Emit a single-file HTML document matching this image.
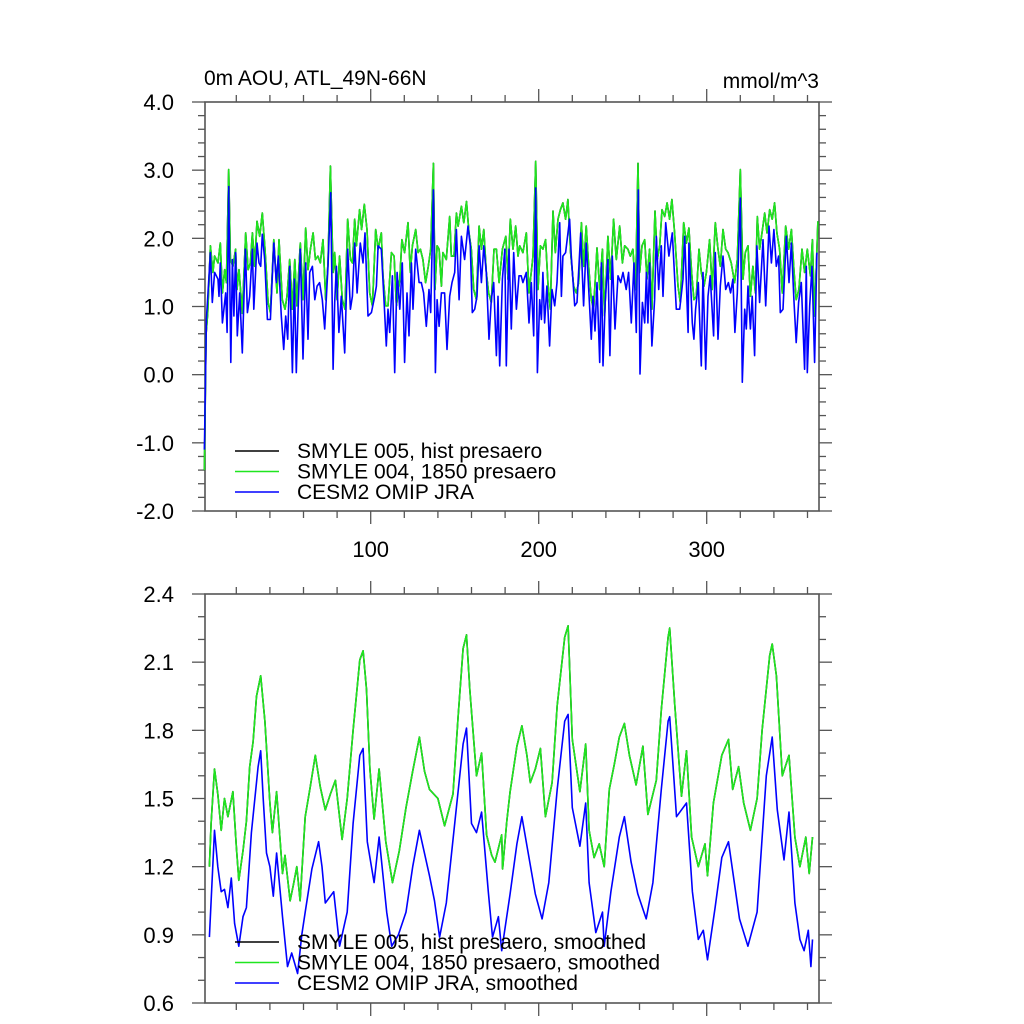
<!DOCTYPE html>
<html><head><meta charset="utf-8">
<style>
html,body{margin:0;padding:0;background:#fff;}
svg{display:block;font-family:"Liberation Sans",Arial,sans-serif;}
</style></head>
<body>
<svg id="chart" width="1024" height="1024" viewBox="0 0 1024 1024">
<g id="top"></g>
<g id="bot"></g>
</svg>
<script>
// ---- data ----
const topGreenDays = [1,2,3,4.6,6.1,7.1,9.1,10.5,11.7,13.1,14.1,15.5,16.5,18.0,19.6,20.4,21.6,23.6,25.6,27.0,28.4,29.6,30.9,32.3,33.9,35.5,37.1,38.9,40.3,42.3,44.2,45.4,47.4,49.0,50.2,51.8,53.4,54.8,56.1,58.1,59.7,61.3,62.7,64.1,65.7,67.1,68.6,70.0,71.6,73.2,74.6,76.0,77.6,78.6,80.0,81.5,83.1,84.7,86.3,87.9,89.1,90.5,91.5,93.4,94.6,96.2,97.8,99.4,101.0,103.0,104.4,106.3,107.3,108.9,110.3,112.3,113.9,115.3,117.3,118.6,120.2,122.2,123.6,124.8,126.8,128.2,129.6,131.1,132.7,134.3,135.7,137.3,138.3,139.5,140.7,142.1,143.0,145.0,147.0,148.0,149.6,151.0,152.0,154.0,155.4,157.0,158.5,159.9,161.3,162.9,164.5,165.9,167.3,168.8,170.2,171.8,173.4,174.8,176.4,178.4,180.4,181.7,183.1,184.7,186.3,187.7,188.7,190.6,192.6,194.2,196.6,198.2,199.6,201.0,202.5,204.1,205.5,206.9,208.5,209.9,211.5,212.9,214.4,216.0,217.4,219.0,220.8,222.4,223.8,225.4,226.8,228.3,229.9,231.3,232.7,234.7,236.3,237.9,239.2,241.2,242.8,244.6,246.2,248.2,249.8,251.2,253.1,254.5,256.1,257.7,259.1,260.1,261.5,263.1,264.4,266.0,267.4,269.2,270.6,272.0,273.4,275.0,276.4,277.9,279.3,280.9,282.9,284.3,286.3,287.9,289.4,291.0,292.4,293.8,295.4,296.8,298.4,299.8,301.7,303.3,305.1,306.7,308.1,309.7,311.3,312.7,314.6,316.6,318.2,320.0,321.6,323.0,324.6,326.0,327.5,329.0,330.1,331.5,332.9,334.5,335.9,337.5,339.0,340.4,341.8,343.4,345.0,347.0,348.8,350.4,352.0,353.3,354.9,356.7,358.3,359.9,361.7,362.9,364.2,366.2];
const topGreen = [-1.4,0.6,0.9,1.89,1.50,1.74,1.64,1.93,1.20,1.54,1.35,3.01,1.69,1.59,1.84,1.25,1.54,0.9,2.08,1.54,1.64,2.08,1.59,2.25,2.03,2.37,1.84,1.06,0.91,1.98,1.20,1.98,1.10,0.96,1.15,1.69,0.96,1.69,1.01,1.93,1.10,2.15,1.54,1.84,2.08,1.69,1.74,1.64,1.98,1.10,1.64,3.06,1.50,1.79,1.10,1.74,1.10,0.96,2.28,1.69,1.64,2.28,1.89,2.42,2.13,2.50,2.13,1.20,1.01,2.13,1.84,2.08,1.45,1.01,1.01,1.79,1.74,1.01,1.40,1.98,1.79,2.23,1.50,1.89,2.13,1.79,1.84,1.69,1.35,1.59,1.84,3.10,1.25,1.89,1.84,1.30,1.79,1.69,2.32,1.74,1.74,2.37,2.18,2.47,2.23,2.54,2.08,1.84,1.25,1.10,2.18,1.84,2.13,1.50,1.20,1.06,1.84,1.84,1.35,1.84,2.03,1.40,2.28,1.84,2.18,1.74,1.89,1.79,2.08,1.20,1.74,3.13,1.25,1.89,1.84,1.98,1.35,0.96,2.40,1.79,2.28,2.42,2.52,2.28,2.57,1.79,1.30,1.20,1.35,2.23,1.59,2.18,1.54,1.10,0.96,1.86,1.25,1.84,0.86,2.03,1.40,2.28,1.69,2.18,1.64,1.89,1.84,1.74,1.84,1.25,3.10,1.50,1.89,1.98,1.40,1.84,0.96,2.40,1.69,1.89,2.42,2.32,2.52,2.28,2.57,2.08,1.30,1.06,2.23,1.93,2.15,1.50,1.10,1.15,1.84,1.50,1.30,1.50,1.98,1.25,2.23,1.84,1.59,2.13,1.84,1.79,1.64,1.35,1.69,3.01,1.40,1.79,1.89,1.15,1.59,1.20,2.32,1.84,2.08,2.37,2.08,2.42,2.28,2.52,2.08,1.84,1.20,2.18,1.84,2.13,1.50,1.10,1.25,1.84,1.50,1.84,1.45,1.98,0.86,2.25];
const topHistDays = topGreenDays.slice();
const topHist = topGreen.slice();
const topBlueDays = [1,2.2,4.6,5.7,7.1,9.1,9.7,10.5,11.7,13.7,14.5,15.5,16.7,17.7,18.6,19.6,20.6,22.0,23.6,25.4,26.6,28.0,29.6,30.4,32.3,33.5,34.5,35.5,36.9,38.5,40.3,42.3,43.8,45.0,46.8,48.2,49.4,50.6,51.8,53.4,54.6,55.7,56.7,58.1,59.7,61.3,62.7,63.7,65.3,66.7,68.1,69.6,71.2,72.6,74.6,76.2,77.6,78.6,79.6,81.1,82.5,84.5,86.3,87.9,89.1,90.5,91.9,93.8,95.4,96.6,98.4,100.4,102.4,103.4,104.4,106.3,107.9,109.3,110.3,111.3,112.9,114.3,115.7,117.3,118.8,120.2,121.6,122.8,124.2,125.2,126.8,128.8,130.1,131.5,133.1,134.7,135.7,137.3,138.5,139.5,140.7,142.1,144.0,145.4,147.0,148.4,150.0,151.0,152.6,154.0,155.9,157.9,159.3,160.5,161.9,163.3,164.5,165.9,167.3,168.8,170.4,171.8,173.2,174.8,175.8,176.8,178.4,179.8,180.7,182.3,183.7,185.1,186.7,188.3,189.6,190.6,192.6,194.2,195.6,197.0,198.2,199.2,200.6,201.6,202.5,203.5,204.9,206.5,207.9,209.5,210.9,212.5,213.5,214.4,216.0,218.4,219.4,221.4,222.8,225.0,226.7,228.3,229.9,231.3,232.3,233.5,234.7,236.3,237.3,238.3,239.6,241.2,242.4,243.8,245.4,247.2,248.8,250.2,252.1,253.5,255.1,256.7,258.1,259.3,260.3,261.7,263.1,264.1,265.0,266.0,267.4,269.0,270.0,271.4,273.0,274.0,275.6,277.5,279.5,281.9,283.9,285.9,286.9,288.9,289.4,291.4,292.4,293.4,295.0,296.8,297.8,299.4,300.8,302.1,304.1,305.1,306.7,308.1,309.7,311.3,312.9,314.2,315.6,316.8,318.2,320.0,321.2,322.6,323.6,324.6,326.0,327.1,328.5,329.9,331.5,333.5,335.1,337.1,338.5,340.0,341.4,342.8,343.8,345.4,347.4,349.0,350.4,351.9,353.3,354.7,356.3,358.3,359.3,359.9,361.3,362.7,364.2,365.6];
const topBlue = [-1.1,0.81,1.79,1.06,1.50,1.40,1.15,1.64,0.76,1.20,0.62,2.76,0.18,1.69,0.86,1.79,0.57,1.20,0.32,1.84,0.91,1.15,1.84,0.96,1.93,1.64,1.59,2.06,1.69,0.81,0.81,1.93,1.35,1.74,0.86,0.37,0.86,0.52,1.59,0.03,1.40,0.03,0.91,1.84,0.23,1.64,0.52,1.50,1.59,1.10,1.30,1.35,1.10,0.67,1.59,2.67,0.08,1.06,1.59,0.62,1.15,0.32,1.84,0.96,1.15,1.93,1.20,1.93,1.64,2.08,0.86,0.91,1.15,1.30,1.89,1.84,1.10,0.42,0.96,0.62,1.45,0.03,1.50,0.96,1.64,0.18,1.20,0.57,1.64,0.96,1.84,1.35,1.35,1.20,0.71,1.25,0.91,2.71,0.03,1.10,0.71,1.20,1.20,0.37,1.15,1.35,1.50,2.13,1.10,2.03,1.69,2.18,1.89,0.91,0.96,1.15,1.89,1.35,1.89,1.50,0.52,1.10,1.35,0.28,1.15,0.13,1.40,1.84,0.13,1.84,0.67,1.79,0.96,1.45,1.45,1.35,1.50,0.76,1.35,0.57,2.74,0.03,1.10,0.81,1.50,0.76,1.30,0.42,1.25,1.01,1.35,2.23,1.15,1.74,1.79,2.28,1.74,1.01,1.06,2.08,1.01,1.93,1.20,0.52,1.15,0.64,1.35,0.18,1.64,0.13,1.06,1.69,0.28,1.74,0.67,1.45,1.35,1.50,1.25,1.50,0.76,1.64,0.62,2.71,0.01,1.06,0.76,1.50,0.76,1.64,0.42,1.10,2.03,1.25,1.89,1.15,2.23,1.74,2.08,0.96,0.96,1.40,2.03,0.62,1.93,0.76,0.52,0.96,1.35,0.13,1.50,0.08,1.15,1.45,0.57,1.79,0.52,1.30,1.74,1.25,1.35,1.20,1.40,0.62,1.20,2.59,-0.11,0.96,0.67,1.30,0.67,1.15,0.28,1.89,1.06,1.98,1.01,2.18,1.64,2.13,1.59,1.74,0.91,0.96,2.03,1.35,1.93,1.10,0.47,1.06,1.35,0.08,1.59,0.03,1.01,1.59,0.18,1.79];

const botGreenDays = [4,5,7,9,11,13,15,18,20,21.5,24,26,28,30,32,34.5,37,40,41.5,44,47.5,49,52,54,56,58,61,64,67,70,73,76,79,83,86,89.5,93.5,95.5,97.5,99.5,102,105,109,113,117,121,125,129,132,135,140,144,149,152,155,157,159,163,166,169,172,174,178,178.5,181,183,187,190,193,195,198,201,204,208,211,215.5,217.5,220,224.5,228,230,233,236,239,242,245,248,251,254,258,262,265,270,273,277,278,281,285,288,291,295,299,300.5,304,309,313,315.5,319,322,326,330,333,337.5,339,341.5,345,349,352.5,355.5,359,361,363];
const botGreen = [1.2,1.39,1.63,1.52,1.36,1.5,1.42,1.53,1.29,1.14,1.27,1.4,1.64,1.75,1.95,2.04,1.84,1.48,1.35,1.53,1.17,1.25,1.05,1.12,1.2,1.05,1.42,1.55,1.69,1.55,1.45,1.52,1.58,1.32,1.5,1.8,2.11,2.15,1.98,1.63,1.41,1.63,1.31,1.13,1.27,1.46,1.62,1.77,1.62,1.54,1.5,1.38,1.52,1.86,2.16,2.22,1.98,1.6,1.7,1.34,1.25,1.22,1.34,1.19,1.4,1.53,1.73,1.82,1.69,1.57,1.63,1.72,1.42,1.57,1.91,2.21,2.26,1.76,1.53,1.74,1.36,1.24,1.3,1.2,1.54,1.65,1.77,1.83,1.69,1.56,1.73,1.43,1.58,1.89,2.21,2.25,1.91,1.51,1.71,1.33,1.2,1.3,1.16,1.48,1.69,1.76,1.54,1.64,1.48,1.36,1.5,1.8,2.13,2.18,2.04,1.6,1.69,1.33,1.2,1.33,1.17,1.33];
const botHistDays = botGreenDays.slice();
const botHist = botGreen.slice();
const botBlueDays = [4,7,9,11,13,15,17,19,21.5,24,26,29,33,34.5,36,38,40,42,44,47.5,50.5,53,56.5,59,61,65,69,71,73,78,81.5,86,89.5,93.5,95.5,98,102,105,109.5,112.5,116.5,121,125,129,135,138,141,145,151,155,157,160,163,166,170,172.5,176,178,183,187,190,193.5,198,202,206,211,215.5,217.5,220,224.5,228,230,234,238,239,243,248,251,255,259,264,268,273,277,278,282,288,291.5,295,298,300.5,305,309,313,315.5,319.5,324.5,330,335.5,339,342,346,349,352.5,355.5,358,360.5,362,363];
const botBlue = [0.89,1.36,1.2,1.09,1.1,1.02,1.15,0.95,0.85,0.98,1.02,1.35,1.64,1.71,1.5,1.26,1.2,1.07,1.26,0.98,0.76,0.82,0.73,0.9,1.0,1.19,1.31,1.2,1.04,1.09,0.85,1.0,1.39,1.69,1.72,1.31,1.13,1.33,1.0,0.85,0.9,1.0,1.2,1.36,1.16,1.05,0.89,1.04,1.46,1.74,1.81,1.39,1.35,1.44,1.09,0.89,0.98,0.83,1.08,1.3,1.42,1.27,1.08,0.97,1.13,1.54,1.84,1.87,1.46,1.29,1.48,1.13,0.91,1.0,0.85,1.09,1.33,1.42,1.22,1.08,0.97,1.13,1.54,1.84,1.86,1.42,1.48,1.09,0.88,0.92,0.79,1.02,1.24,1.31,1.18,0.97,0.85,1.0,1.6,1.77,1.45,1.23,1.44,1.04,0.88,0.83,0.92,0.76,0.88];

const topYTicks = ["4.0","3.0","2.0","1.0","0.0","-1.0","-2.0"];
const botYTicks = ["2.4","2.1","1.8","1.5","1.2","0.9","0.6"];
const xTickLabels = ["100","200","300"];
const legendTop = ["SMYLE 005, hist presaero","SMYLE 004, 1850 presaero","CESM2 OMIP JRA"];
const legendBot = ["SMYLE 005, hist presaero, smoothed","SMYLE 004, 1850 presaero, smoothed","CESM2 OMIP JRA, smoothed"];

// ---- layout ----
const NS = "http://www.w3.org/2000/svg";
const L = 205, R = 819;
const X0 = 202.7, XS = 1.68;
function xs(d){ return X0 + XS * d; }
function mk(parent, tag, attrs){ const e = document.createElementNS(NS, tag); for (const k in attrs) e.setAttribute(k, attrs[k]); parent.appendChild(e); return e; }

function panel(g, top, bottom, ymax, ymin, majorStep, minorStep, yLabels, showXLabels){
  const ys = v => top + (ymax - v) / (ymax - ymin) * (bottom - top);
  const ax = mk(g, "g", {});
  
  
  const frame = mk(ax, "rect", {x:L, y:top, width:R-L, height:bottom-top, fill:"none", stroke:"#555", "stroke-width":1.6});
  
  
  for (let d = 20; d <= 360; d += 20){
    const major = d % 100 === 0;
    const len = major ? 13 : 7;
    const x = xs(d);
    mk(ax, "line", {x1:x, x2:x, y1:top, y2:top-len, stroke:"#555", "stroke-width":1.3});
    mk(ax, "line", {x1:x, x2:x, y1:bottom, y2:bottom+len, stroke:"#555", "stroke-width":1.3});
  }
  const nMinor = Math.round((ymax - ymin) / minorStep);
  const ratio = Math.round(majorStep / minorStep);
  for (let i = 0; i <= nMinor; i++){
    const v = ymax - i * minorStep;
    const major = i % ratio === 0;
    const len = major ? 13 : 7;
    const y = ys(v);
    mk(ax, "line", {x1:L, x2:L-len, y1:y, y2:y, stroke:"#555", "stroke-width":1.3});
    mk(ax, "line", {x1:R, x2:R+len, y1:y, y2:y, stroke:"#555", "stroke-width":1.3});
  }
  yLabels.forEach((lab, i) => {
    const t = mk(ax, "text", {x:174, y:ys(ymax - i*majorStep)+8, "text-anchor":"end", "font-size":22, fill:"#000"});
    t.textContent = lab;
    
    
  });
  if (showXLabels){
    xTickLabels.forEach(lab => {
      const t = mk(ax, "text", {x:xs(+lab), y:bottom+46, "text-anchor":"middle", "font-size":22, fill:"#000"});
      t.textContent = lab;
      
      
    });
  }
  return ys;
}
function series(g, ys, days, vals, color, name){
  let dstr = "";
  for (let i = 0; i < days.length; i++){
    dstr += (i ? "L" : "M") + xs(days[i]).toFixed(1) + "," + ys(vals[i]).toFixed(1);
  }
  const p = mk(g, "path", {d:dstr, fill:"none", stroke:color, "stroke-width":1.6, "stroke-linejoin":"round"});
  
  
}
function legend(g, labels, y0){
  const cols = ["#000","#1fe61f","#0000ff"];
  labels.forEach((lab, i) => {
    const y = y0 + i*20.5;
    const ln = mk(g, "line", {x1:235, x2:279, y1:y, y2:y, stroke:cols[i], "stroke-width":1.6});
    
    
    const t = mk(g, "text", {x:297, y:y+7, "font-size":21, fill:"#000"});
    t.textContent = lab;
    
    
  });
}

const gt = document.getElementById("top");
const ysTop = panel(gt, 102, 511, 4.0, -2.0, 1.0, 0.2, topYTicks, true);
series(gt, ysTop, topHistDays, topHist, "#000", "series-smyle005-hist");
series(gt, ysTop, topGreenDays, topGreen, "#1fe61f", "series-smyle004-1850");
series(gt, ysTop, topBlueDays, topBlue, "#0000ff", "series-cesm2-omip");
legend(gt, legendTop, 451);
const title = mk(gt, "text", {x:204, y:85, "font-size":21, fill:"#000"});
title.textContent = "0m AOU, ATL_49N-66N";


const units = mk(gt, "text", {x:819, y:88, "font-size":21, "text-anchor":"end", fill:"#000"});
units.textContent = "mmol/m^3";



const gb = document.getElementById("bot");
const ysBot = panel(gb, 594, 1003, 2.4, 0.6, 0.3, 0.1, botYTicks, false);
series(gb, ysBot, botHistDays, botHist, "#000", "series-smyle005-hist-smoothed");
series(gb, ysBot, botGreenDays, botGreen, "#1fe61f", "series-smyle004-1850-smoothed");
series(gb, ysBot, botBlueDays, botBlue, "#0000ff", "series-cesm2-omip-smoothed");
legend(gb, legendBot, 942);
</script>
</body></html>
